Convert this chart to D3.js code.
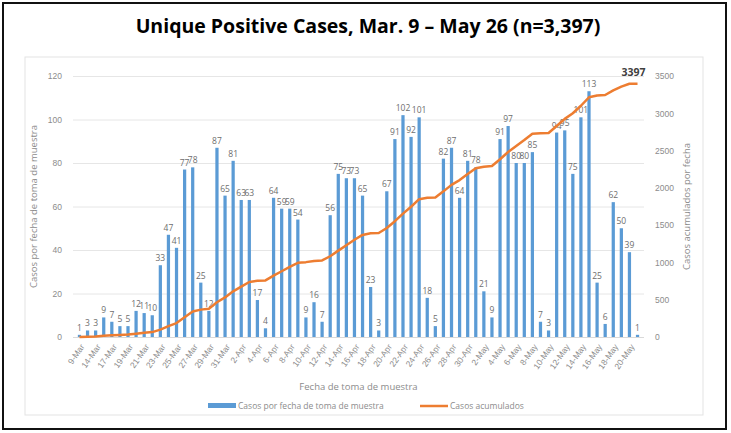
<!DOCTYPE html>
<html>
<head>
<meta charset="utf-8">
<script src="https://cdn.jsdelivr.net/npm/d3@7"></script>
<style>
  body { margin: 0; background: #fff; }
  svg { display: block; font-family: "Open Sans", "Liberation Sans", sans-serif; }
</style>
</head>
<body>
<div id="chart"></div>
<script>
// categories (fecha de toma de muestra)
var fechas = [
  "9-Mar", "13-Mar", "14-Mar", "16-Mar", "17-Mar", "18-Mar", "19-Mar", "20-Mar", "21-Mar", "22-Mar",
  "23-Mar", "24-Mar", "25-Mar", "26-Mar", "27-Mar", "28-Mar", "29-Mar", "30-Mar", "31-Mar", "1-Apr",
  "2-Apr", "3-Apr", "4-Apr", "5-Apr", "6-Apr", "7-Apr", "8-Apr", "9-Apr", "10-Apr", "11-Apr",
  "12-Apr", "13-Apr", "14-Apr", "15-Apr", "16-Apr", "17-Apr", "18-Apr", "19-Apr", "20-Apr", "21-Apr",
  "22-Apr", "23-Apr", "24-Apr", "25-Apr", "26-Apr", "27-Apr", "28-Apr", "29-Apr", "30-Apr", "1-May",
  "2-May", "3-May", "4-May", "5-May", "6-May", "7-May", "8-May", "9-May", "10-May", "11-May",
  "12-May", "13-May", "14-May", "15-May", "16-May", "17-May", "18-May", "19-May", "20-May", "21-May"
];

// casos por fecha de toma de muestra
var casos = [
  1, 3, 3, 9, 7, 5, 5, 12, 11, 10,
  33, 47, 41, 77, 78, 25, 12, 87, 65, 81,
  63, 63, 17, 4, 64, 59, 59, 54, 9, 16,
  7, 56, 75, 73, 73, 65, 23, 3, 67, 91,
  102, 92, 101, 18, 5, 82, 87, 64, 81, 78,
  21, 9, 91, 97, 80, 80, 85, 7, 3, 94,
  95, 75, 101, 113, 25, 6, 62, 50, 39, 1
];

// casos acumulados
var acumulados = [
  1, 4, 7, 16, 23, 28, 33, 45, 56, 66,
  99, 146, 187, 264, 342, 367, 379, 466, 531, 612,
  675, 738, 755, 759, 823, 882, 941, 995, 1004, 1020,
  1027, 1083, 1158, 1231, 1304, 1369, 1392, 1395, 1462, 1553,
  1655, 1747, 1848, 1866, 1871, 1953, 2040, 2104, 2185, 2263,
  2284, 2293, 2384, 2481, 2561, 2641, 2726, 2733, 2736, 2830,
  2925, 3000, 3101, 3214, 3239, 3245, 3307, 3357, 3396, 3397
];

var leftTicks = [0, 20, 40, 60, 80, 100, 120];
var rightTicks = [0, 500, 1000, 1500, 2000, 2500, 3000, 3500];

var W = 731, H = 433;
var plot = { left: 73, right: 644, top: 76, bottom: 337 };

var svg = d3.select("#chart").append("svg")
  .attr("width", W).attr("height", H);

// outer frame
svg.append("rect")
  .attr("x", 3).attr("y", 3).attr("width", 723).attr("height", 426)
  .attr("fill", "#fff").attr("stroke", "#111").attr("stroke-width", 2);

// title
svg.append("text")
  .attr("x", 368).attr("y", 33)
  .attr("text-anchor", "middle")
  .style("font-family", "'Open Sans', 'Liberation Sans', sans-serif")
  .style("font-weight", "bold")
  .style("font-size", "19.5px")
  .attr("fill", "#000")
  .text("Unique Positive Cases, Mar. 9 \u2013 May 26 (n=3,397)");

// inner chart box
svg.append("rect")
  .attr("x", 25).attr("y", 57).attr("width", 678).attr("height", 358)
  .attr("fill", "none").attr("stroke", "#e3e3e3").attr("stroke-width", 1);

var x = d3.scaleBand().domain(fechas).range([plot.left, plot.right]).padding(0.6);
var y = d3.scaleLinear().domain([0, 120]).range([plot.bottom, plot.top]);
var y2 = d3.scaleLinear().domain([0, 3500]).range([plot.bottom, plot.top]);

// gridlines
svg.append("g")
  .selectAll("line")
  .data(leftTicks.slice(1))
  .enter()
  .append("line")
  .attr("x1", plot.left).attr("x2", plot.right)
  .attr("y1", function (d) { return y(d) + 0.5; })
  .attr("y2", function (d) { return y(d) + 0.5; })
  .attr("stroke", "#e6e6e6").attr("stroke-width", 1);

// left axis
var gl = svg.append("g")
  .attr("transform", "translate(" + plot.left + ",0)")
  .call(d3.axisLeft(y).tickValues(leftTicks).tickSize(0).tickPadding(11));
gl.select(".domain").remove();
gl.selectAll("text").attr("fill", "#8c8c8c").style("font-size", "8.5px");

// right axis
var gr = svg.append("g")
  .attr("transform", "translate(" + plot.right + ",0)")
  .call(d3.axisRight(y2).tickValues(rightTicks).tickFormat(d3.format("d"))
    .tickSize(0).tickPadding(11));
gr.select(".domain").remove();
gr.selectAll("text").attr("fill", "#8c8c8c").style("font-size", "8.5px");

// bottom axis
var gb = svg.append("g")
  .attr("transform", "translate(0," + plot.bottom + ")")
  .call(d3.axisBottom(x)
    .tickValues(fechas.filter(function (d, i) { return i % 2 === 0; }))
    .tickSize(0));
gb.select(".domain").attr("stroke", "#d9d9d9")
  .attr("d", "M" + plot.left + ",0.5H" + plot.right);
gb.selectAll("text")
  .attr("fill", "#8c8c8c")
  .style("font-size", "8.5px")
  .attr("text-anchor", "end")
  .attr("transform", "translate(3,8) rotate(-55)")
  .attr("dy", "0.35em")
  .attr("y", 0);

// bars
svg.append("g")
  .selectAll("rect")
  .data(casos)
  .enter()
  .append("rect")
  .attr("x", function (d, i) { return x(fechas[i]); })
  .attr("width", x.bandwidth())
  .attr("y", function (d) { return y(d); })
  .attr("height", function (d) { return plot.bottom - y(d); })
  .attr("fill", "#5b9bd5");

// bar labels
svg.append("g")
  .selectAll("text")
  .data(casos)
  .enter()
  .append("text")
  .attr("x", function (d, i) { return x(fechas[i]) + x.bandwidth() / 2; })
  .attr("y", function (d) { return y(d) - 4; })
  .attr("text-anchor", "middle")
  .attr("fill", "#6e6e6e")
  .style("font-size", "8.5px")
  .text(function (d) { return d; });

// cumulative line
var line = d3.line()
  .x(function (d, i) { return x(fechas[i]) + x.bandwidth() / 2; })
  .y(function (d) { return y2(d); });

svg.append("path")
  .datum(acumulados)
  .attr("fill", "none")
  .attr("stroke", "#ed7d31")
  .attr("stroke-width", 2.5)
  .attr("stroke-linejoin", "round")
  .attr("d", line);

// last value label
var last = acumulados.length - 1;
svg.append("text")
  .attr("x", x(fechas[last]) + x.bandwidth() / 2 - 4)
  .attr("y", y2(acumulados[last]) - 8)
  .attr("text-anchor", "middle")
  .attr("fill", "#404040")
  .style("font-weight", "bold")
  .style("font-size", "10.5px")
  .text(acumulados[last]);

// axis titles
svg.append("text")
  .attr("transform", "translate(37," + (plot.top + plot.bottom) / 2 + ") rotate(-90)")
  .attr("text-anchor", "middle")
  .attr("fill", "#8c8c8c")
  .style("font-size", "9.5px")
  .text("Casos por fecha de toma de muestra");

svg.append("text")
  .attr("transform", "translate(690," + (plot.top + plot.bottom) / 2 + ") rotate(-90)")
  .attr("text-anchor", "middle")
  .attr("fill", "#8c8c8c")
  .style("font-size", "9.5px")
  .text("Casos acumulados por fecha");

svg.append("text")
  .attr("x", (plot.left + plot.right) / 2)
  .attr("y", 390)
  .attr("text-anchor", "middle")
  .attr("fill", "#8c8c8c")
  .style("font-size", "9.5px")
  .text("Fecha de toma de muestra");

// legend
var legend = svg.append("g").attr("transform", "translate(0,406)");
legend.append("rect")
  .attr("x", 208).attr("y", -3).attr("width", 28).attr("height", 5)
  .attr("fill", "#5b9bd5");
legend.append("text")
  .attr("x", 238).attr("y", 0).attr("dy", "0.35em")
  .attr("fill", "#8c8c8c").style("font-size", "8.5px")
  .text("Casos por fecha de toma de muestra");
legend.append("line")
  .attr("x1", 420).attr("x2", 448).attr("y1", 0).attr("y2", 0)
  .attr("stroke", "#ed7d31").attr("stroke-width", 2.5);
legend.append("text")
  .attr("x", 450).attr("y", 0).attr("dy", "0.35em")
  .attr("fill", "#8c8c8c").style("font-size", "8.5px")
  .text("Casos acumulados");
</script>
</body>
</html>
